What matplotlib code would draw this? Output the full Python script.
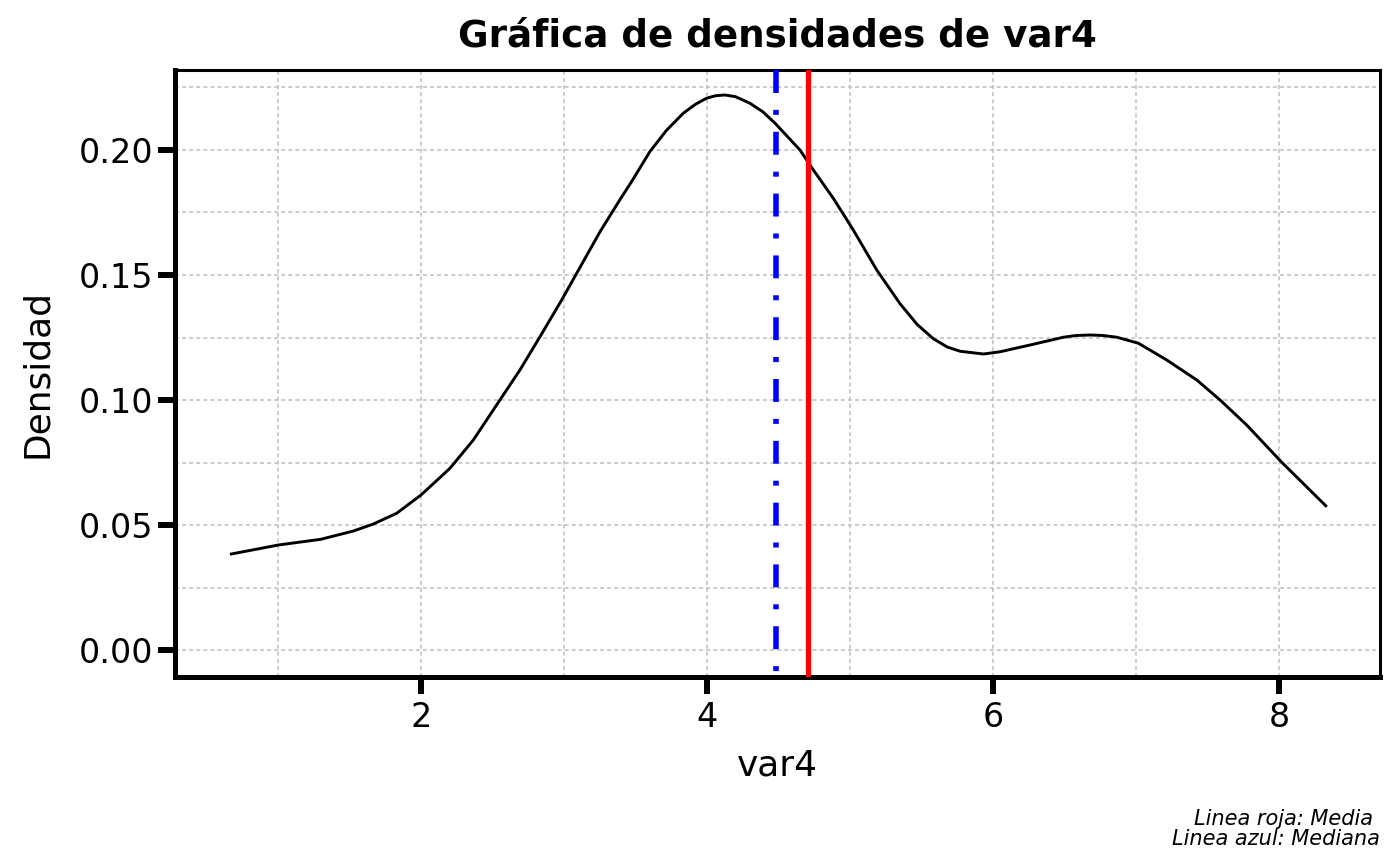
import matplotlib
matplotlib.use("Agg")
import matplotlib.pyplot as plt
from matplotlib.ticker import MultipleLocator, FormatStrFormatter

# Data
dens_x = [0.664, 1.002, 1.30, 1.527, 1.667, 1.83, 2.0, 2.203, 2.366, 2.552, 2.692,
          2.832, 2.984, 3.252, 3.39, 3.48, 3.60, 3.716, 3.834, 3.92, 3.997, 4.06, 4.126, 4.20,
          4.30, 4.39, 4.476, 4.65, 4.744, 4.883, 5.023, 5.187, 5.35, 5.47, 5.583, 5.68, 5.77,
          5.934, 6.05, 6.259, 6.492, 6.58, 6.68, 6.77, 6.866, 7.017, 7.215, 7.425, 7.588,
          7.774, 8.019, 8.334]
dens_y = [0.0383, 0.042, 0.0443, 0.0476, 0.0504, 0.0547, 0.062, 0.0727, 0.084, 0.100, 0.112,
          0.1253, 0.140, 0.1673, 0.180, 0.188, 0.1993, 0.2078, 0.2147, 0.2183, 0.2207, 0.2217, 0.222, 0.2213,
          0.2187, 0.2153, 0.2107, 0.200, 0.192, 0.1807, 0.168, 0.152, 0.1385, 0.1302, 0.1245, 0.1212, 0.1195,
          0.1184, 0.1193, 0.122, 0.1251, 0.1258, 0.126, 0.1258, 0.1251, 0.1227, 0.116, 0.108, 0.100,
          0.090, 0.0751, 0.0573]
media = 4.706
mediana = 4.483

title = "Gráfica de densidades de var4"
xlabel = "var4"
ylabel = "Densidad"
caption = "Linea roja: Media \nLinea azul: Mediana"

plt.rcParams['font.family'] = ['DejaVu Sans']
plt.rcParams['lines.scale_dashes'] = False

fig = plt.figure(figsize=(14, 8.66), dpi=100)
ax = fig.add_axes([0.125, 0.2182, 0.8607, 0.701])

ax.plot(dens_x, dens_y, color='black', lw=2.1, zorder=3,
        solid_joinstyle='round', solid_capstyle='butt')
ax.axvline(media, color='#ff0000', lw=3.8, zorder=4)
# median line drawn from top to bottom so the dash pattern starts at the top
ax.plot([mediana, mediana], [1, 0], transform=ax.get_xaxis_transform(),
        color='#0000ff', lw=4.0, zorder=4,
        dashes=[16.5, 12.2, 3.6, 12.2], dash_capstyle='butt')

ax.set_xlim(0.28, 8.706)
ax.set_ylim(-0.0108, 0.232)

ax.xaxis.set_major_locator(MultipleLocator(2))
ax.xaxis.set_minor_locator(MultipleLocator(1))
ax.yaxis.set_major_locator(MultipleLocator(0.05))
ax.yaxis.set_minor_locator(MultipleLocator(0.025))
ax.yaxis.set_major_formatter(FormatStrFormatter('%.2f'))

ax.grid(which='both', color='#bfbfbf', lw=1.1, dashes=[2.9, 2.2], zorder=0)
ax.set_axisbelow(True)

ax.tick_params(which='major', length=12, width=4.3, labelsize=24, color='black')
ax.tick_params(axis='y', which='major', pad=3.5)
ax.tick_params(axis='x', which='major', pad=5)
ax.tick_params(which='minor', length=0, width=0)

for side in ['left', 'bottom']:
    ax.spines[side].set_linewidth(3.6)
for side in ['top', 'right']:
    ax.spines[side].set_linewidth(2.2)

ax.set_xlabel(xlabel, fontsize=25.9, labelpad=11)
ax.set_ylabel(ylabel, fontsize=25.9, labelpad=18)
ax.set_title(title, fontsize=26.8, fontweight='bold', pad=17)

fig.text(0.9857, 1 - 849/866, caption, ha='right', va='bottom', fontsize=15,
         style='italic', linespacing=1.0)

fig.savefig('out.png', dpi=100)
